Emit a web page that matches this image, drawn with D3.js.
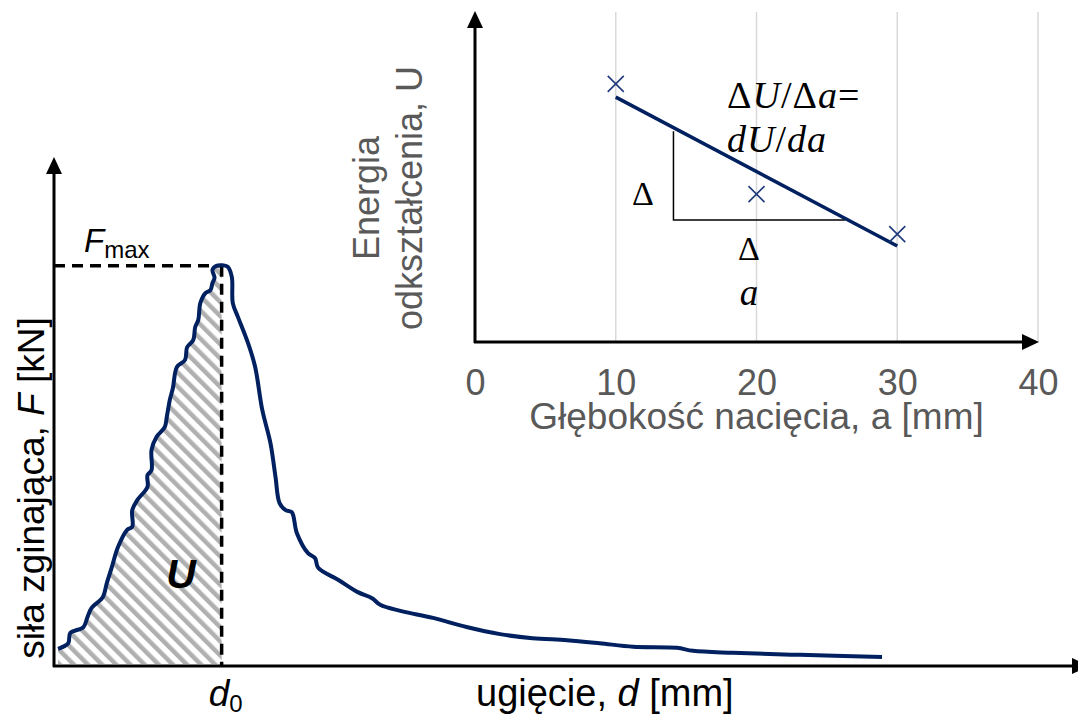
<!DOCTYPE html>
<html>
<head>
<meta charset="utf-8">
<script src="https://cdn.jsdelivr.net/npm/d3@7"></script>
<style>
  body { margin: 0; background: #fff; }
  svg { display: block; }
</style>
</head>
<body>
<div id="viz"></div>
<script>
// load-deflection curve (schematic units)
const curveD = [0.4, 1.4, 1.6, 2.9, 3.3, 3.7, 4.8, 5.2, 5.7, 6.3, 7.2, 7.7, 7.7, 8.2, 9.2, 9.2, 9.6, 9.6,
  10.1, 10.9, 11.1, 11.4, 11.7, 12.1, 12.9, 13.1, 13.7, 13.9, 14.2, 14.4, 14.9, 15.4, 15.6, 15.8, 15.6,
  16.0, 16.5, 17.1, 17.5, 17.6, 18.1, 19.1, 19.8, 20.5, 21.3, 21.8, 22.2, 22.8, 23.4, 23.9, 25.0, 25.7,
  26.0, 28.0, 29.9, 31.3, 32.1, 34.1, 37.3, 40.6, 43.9, 47.1, 50.5, 53.7, 57.0, 61.3, 62.9, 66.8, 73.4, 81.5];
const curveF = [3.4, 4.5, 6.5, 7.7, 9.7, 11.5, 13.6, 16.4, 19.6, 23.5, 26.9, 27.5, 30.8, 32.8, 35.4, 37.7, 38.7, 42.7,
  45.3, 47.2, 49.2, 52.6, 54.9, 59.1, 60.5, 63.0, 64.4, 67.0, 68.4, 71.7, 73.7, 74.3, 75.7, 76.7, 78.3,
  79.1, 79.2, 78.9, 76.9, 71.7, 69.0, 63.8, 59.1, 50.6, 44.1, 37.4, 32.2, 30.8, 30.4, 26.3, 22.3, 21.3,
  19.4, 17.0, 14.6, 13.4, 12.1, 10.9, 9.5, 7.7, 6.3, 5.5, 5.1, 4.5, 3.8, 3.6, 3.0, 2.6, 2.2, 1.8];
const d0 = 16.5;
const fMax = 79.1;

// inset: energy vs notch depth
const notchDepth = [10, 20, 30];
const energy = [78.2, 44.8, 32.7];
const fitA = [10, 30];
const fitU = [74.2, 29.1];
const stepA = [14.1, 26.3];
const stepU = [63.9, 37.0];
const insetTicks = [0, 10, 20, 30, 40];

const width = 1078, height = 716;
const navy = '#002060';
const sans = '"Liberation Sans", Arial, sans-serif';
const serif = '"Liberation Serif", "Times New Roman", serif';

const svg = d3.select('#viz')
  .append('svg')
  .attr('width', width)
  .attr('height', height);

const defs = svg.append('defs');
defs.append('pattern')
  .attr('id', 'hatch')
  .attr('patternUnits', 'userSpaceOnUse')
  .attr('width', 10)
  .attr('height', 10)
  .attr('patternTransform', 'rotate(-45)')
  .append('rect')
  .attr('width', 4.5)
  .attr('height', 10)
  .attr('fill', '#b0b0b0');

function arrow(g, x, y, dir, len, half) {
  let pts;
  if (dir === 'up') pts = [[x, y], [x - half, y + len], [x + half, y + len]];
  else pts = [[x, y], [x - len, y - half], [x - len, y + half]];
  g.append('path')
    .attr('d', 'M' + pts.join('L') + 'Z')
    .attr('fill', '#000');
}

// ---------- main chart ----------
const x = d3.scaleLinear().domain([0, 100]).range([54, 1070]);
const y = d3.scaleLinear().domain([0, 100]).range([666, 160]);

const curve = curveD.map((d, i) => ({ d: d, f: curveF[i] }));

const main = svg.append('g');

main.append('path')
  .datum(curve.filter(p => p.d <= d0))
  .attr('fill', 'url(#hatch)')
  .attr('d', d3.area()
    .x(p => x(p.d))
    .y0(y(0) - 2)
    .y1(p => y(p.f))
    .curve(d3.curveCatmullRom.alpha(0.5)));

// dashed guides
main.append('line')
  .attr('x1', x(0)).attr('x2', x(d0))
  .attr('y1', y(fMax)).attr('y2', y(fMax))
  .attr('stroke', '#000').attr('stroke-width', 3.5)
  .attr('stroke-dasharray', '11,7');
main.append('line')
  .attr('x1', x(d0)).attr('x2', x(d0))
  .attr('y1', y(fMax)).attr('y2', y(0))
  .attr('stroke', '#000').attr('stroke-width', 3.5)
  .attr('stroke-dasharray', '11,7');

main.append('path')
  .datum(curve)
  .attr('fill', 'none')
  .attr('stroke', navy)
  .attr('stroke-width', 4)
  .attr('stroke-linejoin', 'round')
  .attr('d', d3.line()
    .x(p => x(p.d))
    .y(p => y(p.f))
    .curve(d3.curveCatmullRom.alpha(0.5)));

// axes
main.append('line')
  .attr('x1', x(0)).attr('x2', x(0))
  .attr('y1', y(0) + 1).attr('y2', 170)
  .attr('stroke', '#000').attr('stroke-width', 3);
arrow(main, x(0), 157, 'up', 17, 8);
main.append('line')
  .attr('x1', x(0) - 1).attr('x2', 1075)
  .attr('y1', y(0)).attr('y2', y(0))
  .attr('stroke', '#000').attr('stroke-width', 3);
arrow(main, 1089, y(0), 'right', 17, 8);

// labels
const fLab = main.append('text')
  .attr('x', 84).attr('y', 252)
  .attr('font-family', sans).attr('font-size', 33);
fLab.append('tspan').attr('font-style', 'italic').text('F');
fLab.append('tspan').attr('font-size', 24).attr('dy', 6).text('max');

main.append('text')
  .attr('x', 181).attr('y', 588)
  .attr('text-anchor', 'middle')
  .attr('font-family', sans).attr('font-size', 41)
  .attr('font-weight', 'bold').attr('font-style', 'italic')
  .text('U');

const dLab = main.append('text')
  .attr('x', x(d0) + 4).attr('y', 706)
  .attr('text-anchor', 'middle')
  .attr('font-family', sans).attr('font-size', 37);
dLab.append('tspan').attr('font-style', 'italic').text('d');
dLab.append('tspan').attr('font-size', 24).attr('dy', 6).text('0');

const xTitle = main.append('text')
  .attr('x', 476).attr('y', 706)
  .attr('font-family', sans).attr('font-size', 38);
xTitle.append('tspan').text('ugięcie, ');
xTitle.append('tspan').attr('font-style', 'italic').text('d');
xTitle.append('tspan').text(' [mm]');

const yTitle = main.append('text')
  .attr('transform', 'translate(44,488) rotate(-90)')
  .attr('text-anchor', 'middle')
  .attr('font-family', sans).attr('font-size', 37);
yTitle.append('tspan').text('siła zginająca, ');
yTitle.append('tspan').attr('font-style', 'italic').text('F');
yTitle.append('tspan').text(' [kN]');

// ---------- inset ----------
const xa = d3.scaleLinear().domain([0, 40]).range([475, 1038]);
const yu = d3.scaleLinear().domain([0, 100]).range([342, 12]);

const inset = svg.append('g');

inset.selectAll('.grid')
  .data(insetTicks.filter(t => t > 0))
  .enter().append('line')
  .attr('class', 'grid')
  .attr('x1', d => xa(d)).attr('x2', d => xa(d))
  .attr('y1', yu(0)).attr('y2', yu(100))
  .attr('stroke', '#d9d9d9').attr('stroke-width', 1.5);

const xAxis = inset.append('g')
  .attr('transform', 'translate(0,' + yu(0) + ')')
  .call(d3.axisBottom(xa).tickValues(insetTicks).tickSize(0).tickPadding(27));
xAxis.select('.domain').remove();
xAxis.selectAll('text')
  .attr('font-family', sans).attr('font-size', 36)
  .attr('fill', '#595959');

inset.append('line')
  .attr('x1', xa(0)).attr('x2', xa(0))
  .attr('y1', yu(0) + 1).attr('y2', 26)
  .attr('stroke', '#000').attr('stroke-width', 3);
arrow(inset, xa(0), 11, 'up', 17, 8);
inset.append('line')
  .attr('x1', xa(0) - 1).attr('x2', 1024)
  .attr('y1', yu(0)).attr('y2', yu(0))
  .attr('stroke', '#000').attr('stroke-width', 3);
arrow(inset, 1039, yu(0), 'right', 17, 8);

inset.append('text')
  .attr('x', (xa(0) + xa(40)) / 2).attr('y', 429)
  .attr('text-anchor', 'middle')
  .attr('font-family', sans).attr('font-size', 37)
  .attr('fill', '#595959')
  .text('Głębokość nacięcia, a [mm]');

const uTitle = inset.append('text')
  .attr('transform', 'translate(379,198) rotate(-90)')
  .attr('text-anchor', 'middle')
  .attr('font-family', sans).attr('font-size', 36)
  .attr('fill', '#595959');
uTitle.append('tspan').attr('x', 0).attr('dy', 0).text('Energia');
uTitle.append('tspan').attr('x', 0).attr('dy', 43).text('odkształcenia, U');

// slope triangle
inset.append('path')
  .attr('d', 'M' + xa(stepA[0]) + ',' + yu(stepU[0]) +
    'L' + xa(stepA[0]) + ',' + yu(stepU[1]) +
    'L' + xa(stepA[1]) + ',' + yu(stepU[1]))
  .attr('fill', 'none')
  .attr('stroke', '#000').attr('stroke-width', 1.5);

// fitted line
inset.append('line')
  .attr('x1', xa(fitA[0])).attr('y1', yu(fitU[0]))
  .attr('x2', xa(fitA[1])).attr('y2', yu(fitU[1]))
  .attr('stroke', navy).attr('stroke-width', 3.5);

// data points
inset.selectAll('.pt')
  .data(notchDepth)
  .enter().append('path')
  .attr('class', 'pt')
  .attr('transform', (d, i) => 'translate(' + xa(d) + ',' + yu(energy[i]) + ')')
  .attr('d', 'M-8,-8L8,8M-8,8L8,-8')
  .attr('stroke', '#1f3a7a').attr('stroke-width', 1.6);

// formula annotations
const eq1 = inset.append('text')
  .attr('x', 727).attr('y', 108)
  .attr('font-family', serif).attr('font-size', 38)
  .attr('letter-spacing', 1);
eq1.append('tspan').text('Δ');
eq1.append('tspan').attr('font-style', 'italic').text('U');
eq1.append('tspan').text('/Δ');
eq1.append('tspan').attr('font-style', 'italic').text('a');
eq1.append('tspan').text('=');

const eq2 = inset.append('text')
  .attr('x', 727).attr('y', 152)
  .attr('font-family', serif).attr('font-size', 38)
  .attr('letter-spacing', 1)
  .attr('font-style', 'italic');
eq2.append('tspan').text('dU');
eq2.append('tspan').attr('font-style', 'normal').text('/');
eq2.append('tspan').text('da');

inset.append('text')
  .attr('x', 643).attr('y', 205)
  .attr('text-anchor', 'middle')
  .attr('font-family', serif).attr('font-size', 34)
  .text('Δ');
inset.append('text')
  .attr('x', 749).attr('y', 260)
  .attr('text-anchor', 'middle')
  .attr('font-family', serif).attr('font-size', 34)
  .text('Δ');
inset.append('text')
  .attr('x', 749).attr('y', 305)
  .attr('text-anchor', 'middle')
  .attr('font-family', serif).attr('font-size', 37)
  .attr('font-style', 'italic')
  .text('a');
</script>
</body>
</html>
